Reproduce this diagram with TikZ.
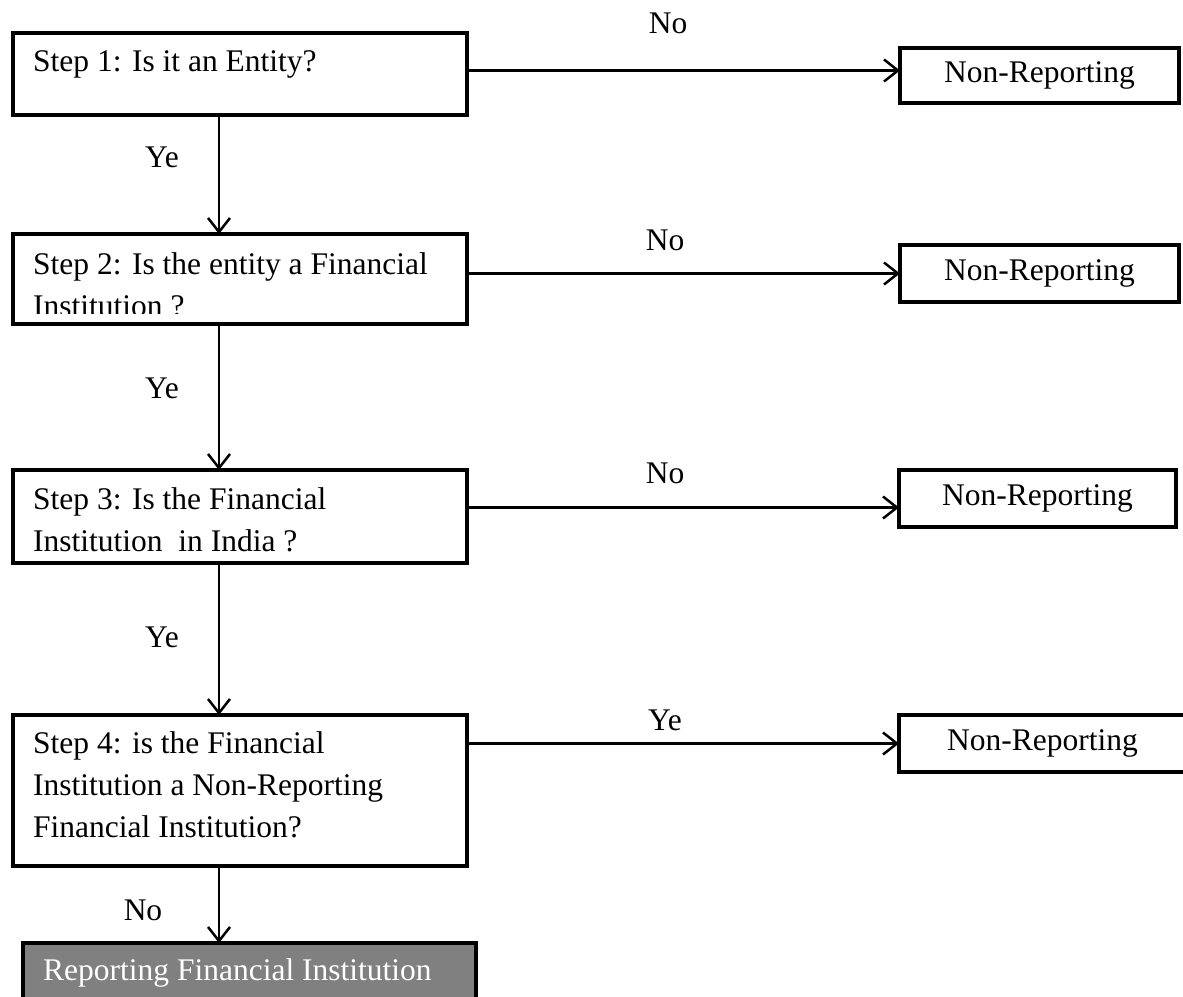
\documentclass[tikz,border=0pt]{standalone}
\usepackage{fontspec}
\setmainfont{Liberation Serif}
\usetikzlibrary{arrows.meta}
\newcommand{\flowfont}{\fontsize{31.5}{42}\selectfont}
\tikzset{stepbox/.style={draw=black, line width=4pt, inner sep=0pt, outer sep=0pt, minimum width=#1},
%question boxes share one width
stepbox/.default={454pt},
nrbox/.style={draw=black, line width=4pt, inner sep=0pt, outer sep=0pt, font=\flowfont}}

\begin{document}
\begin{tikzpicture}[x=1pt,y=-1pt,
  flow/.style={line width=2.5pt, -{Straight Barb[length=14pt,width=22pt]}},
  steptext/.style={anchor=north west, inner sep=0pt, align=left, font=\flowfont},
  answer/.style={inner sep=0pt, font=\flowfont}]
\useasboundingbox (0,0) rectangle (1183,996);
\clip (0,0) rectangle (1183,996);

% question boxes
\node[stepbox, minimum height=82pt] (s1) at (240,74) {};
\node[stepbox, minimum height=90pt] (s2) at (240,279) {};
\node[stepbox, minimum height=93pt] (s3) at (240,516.5) {};
\node[stepbox, minimum height=151pt] (s4) at (240,790.5) {};
\node[stepbox=453pt, minimum height=100pt, fill=gray] (rep) at (249.5,993) {};

% question texts
\node[steptext] (t1) at (33,50) {Step 1: Is it an Entity?};
\begin{scope}
\clip (13,234) rectangle (467,313);
\node[steptext] (t2) at (33,252) {Step 2: Is the entity a Financial\\Institution ?};
\end{scope}
\node[steptext] (t3) at (33,487.5) {Step 3: Is the Financial\\Institution\ \ in India ?};
\node[steptext] (t4) at (33,731.5) {Step 4: is the Financial\\Institution a Non-Reporting\\Financial Institution?};
\node[steptext, text=white] (trep) at (43,958.5) {Reporting Financial Institution};

% outcomes
\node[nrbox, minimum width=279pt, minimum height=55pt] (nr1) at (1039.5,75.5) {Non-Reporting};
\node[nrbox, minimum width=279pt, minimum height=57pt] (nr2) at (1039.5,273.5) {Non-Reporting};
\node[nrbox, minimum width=277pt, minimum height=57pt] (nr3) at (1037.5,498.5) {Non-Reporting};
\node[nrbox, minimum width=287pt, minimum height=57pt] (nr4) at (1042.5,743.5) {Non-Reporting};

% connectors
\coordinate (spine) at (219,0);
\coordinate (a1) at ([yshift=5pt]nr1.west);
\coordinate (a3) at ([yshift=-9pt]nr3.west);
\draw[flow] (s1.south -| spine) -- (s2.north -| spine);
\draw[flow] (s2.south -| spine) -- (s3.north -| spine);
\draw[flow] (s3.south -| spine) -- (s4.north -| spine);
\draw[flow] (s4.south -| spine) -- (rep.north -| spine);
\draw[flow] (s1.east |- a1) -- (a1);
\draw[flow] (s2.east |- nr2.west) -- (nr2.west);
\draw[flow] (s3.east |- a3) -- (a3);
\draw[flow] (s4.east |- nr4.west) -- (nr4.west);

% answers
\node[answer] (no1) at (668,23) {No};
\node[answer] (no2) at (665,240) {No};
\node[answer] (no3) at (665,473) {No};
\node[answer] (ye4) at (665,720) {Ye};
\node[answer] (ye1) at (162,157) {Ye};
\node[answer] (ye2) at (162,388) {Ye};
\node[answer] (ye3) at (162,637) {Ye};
\node[answer] (no4) at (143,910) {No};
\end{tikzpicture}
\end{document}
